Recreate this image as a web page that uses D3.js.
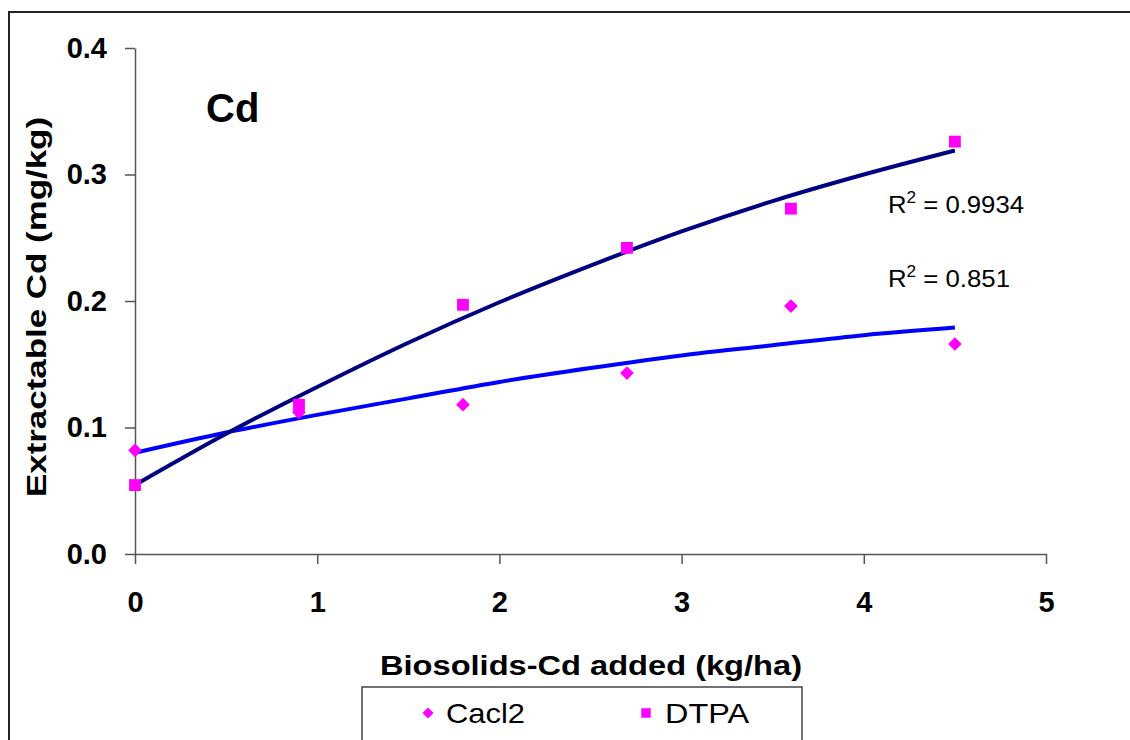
<!DOCTYPE html>
<html>
<head>
<meta charset="utf-8">
<script src="https://cdnjs.cloudflare.com/ajax/libs/d3/7.8.5/d3.min.js"></script>
<style>
	body { margin: 0; background: #fff; }
	text { font-family: Arial, "Liberation Sans", sans-serif; }
</style>
</head>
<body>
<div id="chart"></div>
<script>
var w = 1130, h = 740;

// Measured points
var doses = [0, 0.9, 1.8, 2.7, 3.6, 4.5];
var cacl2 = [0.082, 0.112, 0.118, 0.143, 0.196, 0.166];
var dtpa = [0.0545, 0.118, 0.197, 0.242, 0.273, 0.326];

// Trend lines
var trendX = [0, 0.5, 1, 1.5, 2, 2.5, 3, 3.5, 4, 4.5];
var cacl2Trend = [0.080, 0.096, 0.110, 0.123, 0.136, 0.147, 0.157, 0.165, 0.173, 0.179];
var dtpaTrend = [0.0545, 0.095, 0.132, 0.167, 0.199, 0.228, 0.255, 0.279, 0.300, 0.319];

var xTicks = [0, 1, 2, 3, 4, 5];
var yTicks = [0, 0.1, 0.2, 0.3, 0.4];

var svg = d3.select("#chart").append("svg")
	.attr("width", w)
	.attr("height", h);

// Outer frame (right and bottom edges fall outside the picture)
svg.append("rect")
	.attr("x", 9).attr("y", 12)
	.attr("width", 1300).attr("height", 900)
	.attr("fill", "none")
	.attr("stroke", "#222")
	.attr("stroke-width", 2);

var x = d3.scaleLinear().domain([0, 5]).range([135, 1046]);
var y = d3.scaleLinear().domain([0, 0.4]).range([554, 48]);

// Axes
var yAxis = svg.append("g")
	.attr("transform", "translate(" + x(0) + ",0)")
	.call(d3.axisLeft(y).tickValues(yTicks).tickSize(10).tickSizeOuter(0)
		.tickPadding(18).tickFormat(d3.format(".1f")));

var xAxis = svg.append("g")
	.attr("transform", "translate(0," + y(0) + ")")
	.call(d3.axisBottom(x).tickValues(xTicks).tickSize(10).tickSizeOuter(0)
		.tickPadding(38).tickFormat(d3.format("d")));

[xAxis, yAxis].forEach(function(a) {
	a.select(".domain").attr("stroke", "#555").attr("stroke-width", 1.5);
	a.selectAll(".tick line").attr("stroke", "#555").attr("stroke-width", 1.5);
	a.selectAll(".tick text")
		.attr("fill", "#000")
		.style("font-size", "29px")
		.style("font-weight", "bold")
		.style("font-family", "Arial, 'Liberation Sans', sans-serif");
});
xAxis.selectAll(".tick text").attr("dy", "0.35em");

// Trend lines
var line = d3.line()
	.x(function(d) { return x(d[0]); })
	.y(function(d) { return y(d[1]); })
	.curve(d3.curveMonotoneX);

svg.append("path")
	.datum(d3.zip(trendX, cacl2Trend))
	.attr("d", line)
	.attr("fill", "none")
	.attr("stroke", "#0000ff")
	.attr("stroke-width", 4);

svg.append("path")
	.datum(d3.zip(trendX, dtpaTrend))
	.attr("d", line)
	.attr("fill", "none")
	.attr("stroke", "#000080")
	.attr("stroke-width", 4);

// Markers
var diamond = d3.symbol().type(d3.symbolDiamond2).size(120);
var square = d3.symbol().type(d3.symbolSquare).size(140);

svg.append("g").selectAll("path")
	.data(d3.zip(doses, cacl2))
	.enter()
	.append("path")
		.attr("d", diamond)
		.attr("transform", function(d) { return "translate(" + x(d[0]) + "," + y(d[1]) + ")"; })
		.attr("fill", "#ff00ff");

svg.append("g").selectAll("path")
	.data(d3.zip(doses, dtpa))
	.enter()
	.append("path")
		.attr("d", square)
		.attr("transform", function(d) { return "translate(" + x(d[0]) + "," + y(d[1]) + ")"; })
		.attr("fill", "#ff00ff");

// Labels
svg.append("text")
	.attr("x", 206).attr("y", 122)
	.style("font-size", "40px").style("font-weight", "bold")
	.text("Cd");

var r2 = [["0.9934", 213, 136], ["0.851", 287, 122]];
r2.forEach(function(r) {
	var t = svg.append("text")
		.attr("x", 888).attr("y", r[1])
		.attr("textLength", r[2])
		.attr("lengthAdjust", "spacingAndGlyphs")
		.style("font-size", "24px");
	t.append("tspan").text("R");
	t.append("tspan").attr("dy", -10).style("font-size", "16px").text("2");
	t.append("tspan").attr("dy", 10).text(" = " + r[0]);
});

svg.append("text")
	.attr("x", 380).attr("y", 675)
	.attr("textLength", 422)
	.attr("lengthAdjust", "spacingAndGlyphs")
	.style("font-size", "28px").style("font-weight", "bold")
	.text("Biosolids-Cd added (kg/ha)");

svg.append("text")
	.attr("transform", "translate(46,497) rotate(-90)")
	.attr("textLength", 380)
	.attr("lengthAdjust", "spacingAndGlyphs")
	.style("font-size", "28px").style("font-weight", "bold")
	.text("Extractable Cd (mg/kg)");

// Legend
var legend = svg.append("g");
legend.append("rect")
	.attr("x", 362).attr("y", 687)
	.attr("width", 440).attr("height", 90)
	.attr("fill", "#fff")
	.attr("stroke", "#444")
	.attr("stroke-width", 1.5);

legend.append("path")
	.attr("d", d3.symbol().type(d3.symbolDiamond2).size(80))
	.attr("transform", "translate(428,713)")
	.attr("fill", "#ff00ff");
legend.append("text")
	.attr("x", 446).attr("y", 723)
	.attr("textLength", 79)
	.attr("lengthAdjust", "spacingAndGlyphs")
	.style("font-size", "28px")
	.text("Cacl2");

legend.append("path")
	.attr("d", d3.symbol().type(d3.symbolSquare).size(90))
	.attr("transform", "translate(646,713)")
	.attr("fill", "#ff00ff");
legend.append("text")
	.attr("x", 665).attr("y", 723)
	.attr("textLength", 84)
	.attr("lengthAdjust", "spacingAndGlyphs")
	.style("font-size", "28px")
	.text("DTPA");
</script>
</body>
</html>
